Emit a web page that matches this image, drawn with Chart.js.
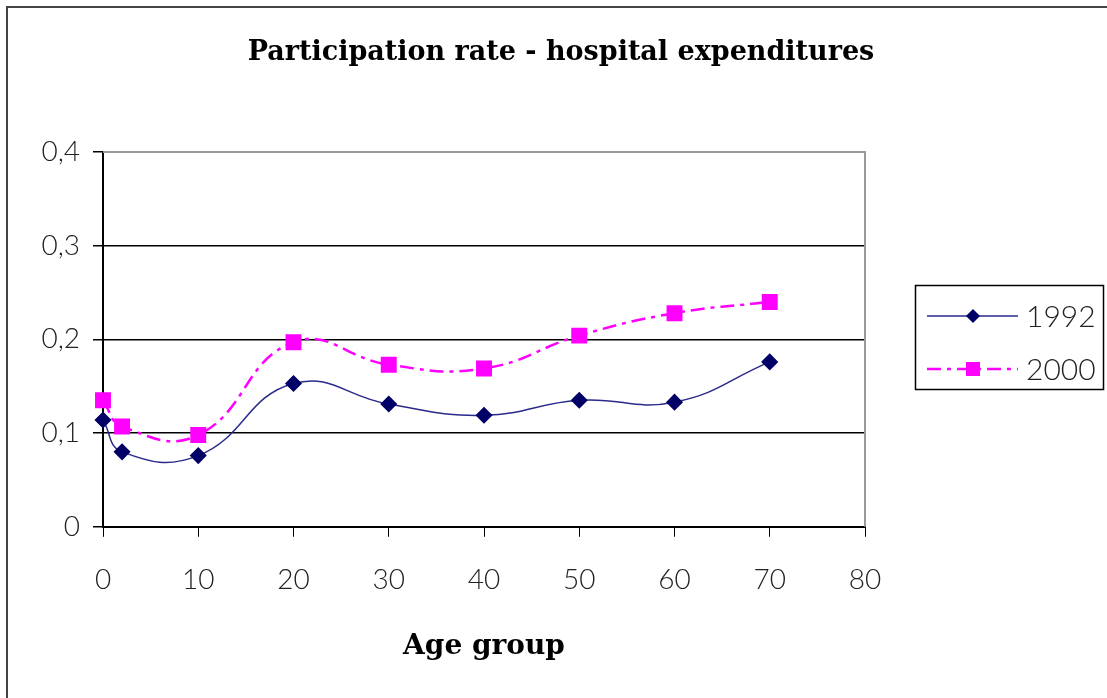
<!DOCTYPE html>
<html>
<head>
<meta charset="utf-8">
<script src="https://cdn.jsdelivr.net/npm/chart.js@4"></script>
<style>
  html, body { margin: 0; padding: 0; background: #fff; }
  #wrap { width: 1107px; height: 698px; }
</style>
</head>
<body>
<div id="wrap"><canvas id="lineChart" width="1107" height="698"></canvas></div>
<script>
const ages = [0, 2, 10, 20, 30, 40, 50, 60, 70];
const rate1992 = [0.114, 0.080, 0.076, 0.153, 0.131, 0.119, 0.135, 0.133, 0.176];
const rate2000 = [0.135, 0.107, 0.098, 0.197, 0.173, 0.169, 0.204, 0.228, 0.240];
const seriesLabels = ['1992', '2000'];
const chartTitle = 'Participation rate - hospital expenditures';

const tickFont = { family: 'Lato', size: 28, weight: '300' };

// frame, title, top/right plot border and the boxed legend
const extras = {
  id: 'extras',
  afterDatasetsDraw(chart) {
    const ctx = chart.ctx, a = chart.chartArea;
    ctx.save();
    ctx.strokeStyle = '#999';
    ctx.lineWidth = 2;
    ctx.beginPath();
    ctx.moveTo(a.left, a.top);
    ctx.lineTo(a.right, a.top);
    ctx.lineTo(a.right, a.bottom);
    ctx.stroke();
    ctx.restore();
  },
  afterDraw(chart) {
    const ctx = chart.ctx;
    ctx.save();
    ctx.strokeStyle = '#444';
    ctx.lineWidth = 2;
    ctx.beginPath();
    ctx.moveTo(7, 720);
    ctx.lineTo(7, 7);
    ctx.lineTo(1120, 7);
    ctx.stroke();

    ctx.fillStyle = '#000';
    ctx.font = 'bold 27px "DejaVu Serif"';
    ctx.textAlign = 'center';
    ctx.textBaseline = 'middle';
    ctx.fillText(chartTitle, 561, 53);

    // legend box
    ctx.textAlign = 'left';
    ctx.strokeStyle = '#000';
    ctx.lineWidth = 1.5;
    ctx.strokeRect(915.5, 285.5, 188, 104);
    ctx.font = '300 30px Lato';
    chart.data.datasets.forEach((ds, i) => {
      const y = 316 + i * 53;
      ctx.strokeStyle = ds.borderColor;
      ctx.lineWidth = ds.borderWidth;
      ctx.setLineDash(ds.borderDash || []);
      ctx.beginPath();
      ctx.moveTo(927, y);
      ctx.lineTo(1018, y);
      ctx.stroke();
      ctx.setLineDash([]);
      ctx.fillStyle = ds.pointBackgroundColor;
      if (ds.pointStyle === 'rectRot') {
        ctx.beginPath();
        ctx.moveTo(973, y - 7); ctx.lineTo(980, y); ctx.lineTo(973, y + 7); ctx.lineTo(966, y);
        ctx.closePath(); ctx.fill();
      } else {
        ctx.fillRect(966, y - 7, 14, 14);
      }
      ctx.fillStyle = '#222';
      ctx.fillText(ds.label, 1026, y + 1);
    });
    ctx.restore();
  }
};

const config = {
  type: 'line',
  data: {
    datasets: [
      {
        label: seriesLabels[0],
        data: ages.map((x, i) => ({ x: x, y: rate1992[i] })),
        borderColor: '#2a2a8a',
        borderWidth: 1.5,
        pointStyle: 'rectRot',
        pointRadius: 7.5,
        pointBackgroundColor: '#000066',
        pointBorderColor: '#000066',
        tension: 0.45,
        clip: false
      },
      {
        label: seriesLabels[1],
        data: ages.map((x, i) => ({ x: x, y: rate2000[i] })),
        borderColor: '#ff00ff',
        borderWidth: 2.5,
        borderDash: [14, 6, 4, 6],
        pointStyle: 'rect',
        pointRadius: 9.5,
        pointBackgroundColor: '#ff00ff',
        pointBorderColor: '#ff00ff',
        tension: 0.45,
        clip: false
      }
    ]
  },
  options: {
    responsive: false,
    animation: false,
    layout: { padding: { left: 10, right: 242, top: 152, bottom: 34 } },
    plugins: {
      legend: { display: false },
      tooltip: { enabled: false },
      title: { display: false }
    },
    scales: {
      x: {
        type: 'linear',
        min: 0, max: 80,
        ticks: { stepSize: 10, color: '#222', font: tickFont, padding: 26 },
        grid: { drawOnChartArea: false, drawTicks: true, tickLength: 10, tickColor: '#000' },
        border: { display: true, color: '#000', width: 2 },
        title: {
          display: true,
          text: 'Age group',
          color: '#000',
          font: { family: 'DejaVu Serif', size: 28, weight: 'bold' },
          padding: { top: 8, bottom: 0 }
        }
      },
      y: {
        min: 0, max: 0.4,
        afterFit(scale) { scale.width = 93; },
        ticks: {
          stepSize: 0.1,
          color: '#222',
          font: tickFont,
          padding: 13,
          callback: v => (Math.round(v * 10) / 10).toString().replace('.', ',')
        },
        grid: {
          color: ctx => (ctx.tick && ctx.tick.value >= 0.4 ? '#999' : '#000'),
          lineWidth: 1.5,
          tickLength: 10,
          tickColor: '#000'
        },
        border: { display: true, color: '#000', width: 2 }
      }
    }
  },
  plugins: [extras]
};

const line = document.getElementById('lineChart');
const lineChart = new Chart(line, config);
</script>
</body>
</html>
